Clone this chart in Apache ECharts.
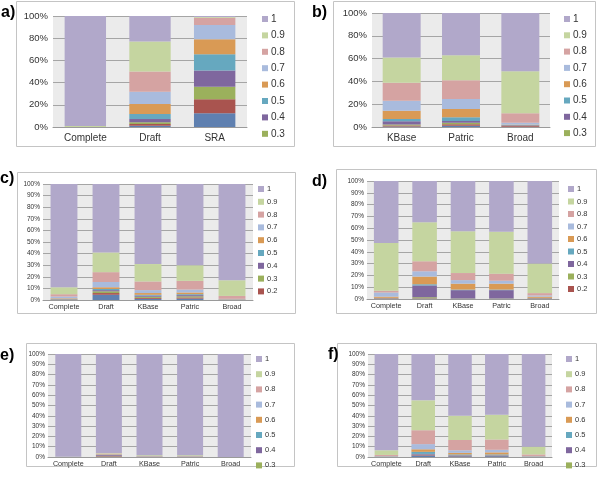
<!DOCTYPE html>
<html><head><meta charset="utf-8">
<script src="https://cdn.jsdelivr.net/npm/echarts@6/dist/echarts.min.js"></script>
<style>html,body{margin:0;padding:0;background:#fff}#c{width:600px;height:477px}</style>
</head><body><div id="c"></div>
<script>
// levels, bottom to top of each stack
const levels = ['0.1','0.2','0.3','0.4','0.5','0.6','0.7','0.8','0.9','1'];
const legendShort = ['1','0.9','0.8','0.7','0.6','0.5','0.4','0.3'];
const legendLong = ['1','0.9','0.8','0.7','0.6','0.5','0.4','0.3','0.2'];
const catsA = ['Complete','Draft','SRA'];
const catsB = ['KBase','Patric','Broad'];
const catsCF = ['Complete','Draft','KBase','Patric','Broad'];
const panelLabels = ['a)','b)','c)','d)','e)','f)'];

// percentages per category, ordered as levels (0.1 ... 1)
const aComplete = [0,0,0,0,0,0,0,0,1,99];
const aDraft    = [1.2,1.5,1.5,3.0,4.5,9.0,11.1,18.2,27,23];
const aSRA      = [12.3,12.7,11.3,14.7,14.5,13.5,13,6.5,0.5,1];

const bKBase  = [0.5,0.8,1.0,2.7,2.0,7.3,8.8,15.8,22,39.1];
const bPatric = [1.0,1.5,1.3,1.5,3.2,7.3,8.8,16.4,22,37];
const bBroad  = [0.3,0.5,0.5,0.5,0.2,0.3,1.5,8.2,37,51];

const cComplete = [0,0.3,0.2,0.2,0.3,0.5,1.5,2,6,89];
const cDraft    = [4.5,1.5,1.5,1,1,1.5,4.5,8.5,17,59];
const cKBase    = [1,0.8,1,1,0.7,1.5,2.5,7.5,15,69];
const cPatric   = [1.2,1,1,1,0.8,1.5,2.5,7.5,13.5,70];
const cBroad    = [0.1,0.1,0.1,0.1,0.1,0.2,0.3,2.5,13.5,83];

const dComplete = [0.2,0.3,0.2,0.2,0.1,1,3.5,1.5,40.5,52.5];
const dDraft    = [0.3,0.3,0.9,10,1,6.5,4.5,8.5,33,35];
const dKBase    = [0.2,0.1,0.2,7,0.5,5,3,6,35.5,42.5];
const dPatric   = [0.2,0.1,0.2,7,0.5,5,2.5,6,35.5,43];
const dBroad    = [0.2,0.3,0.2,0.2,0.1,1,1,2,25,70];

const eComplete = [0,0,0,0,0,0,0,0,0.3,99.7];
const eDraft    = [0.3,0.5,0.4,0.8,0.2,0.5,0.3,0.5,0.5,96];
const eKBase    = [0.1,0.1,0.1,0.1,0.1,0.1,0.1,0.3,0.8,98.2];
const ePatric   = [0.1,0.1,0.1,0.1,0.1,0.1,0.1,0.3,0.8,98.2];
const eBroad    = [0,0,0,0,0,0,0,0,0,100];

const fComplete = [0.1,0.1,0.1,0.1,0.1,0.2,0.3,1,4.5,93.5];
const fDraft    = [1.5,0.5,0.3,0.7,2,2.5,5,13.5,29,45];
const fKBase    = [0.7,0.3,0.3,0.5,0.7,1.5,2.5,10,23.5,60];
const fPatric   = [0.8,0.3,0.3,0.4,0.7,2,2.5,10,24,59];
const fBroad    = [0.1,0.1,0.1,0.1,0.1,0.2,0.3,1.5,7.5,90];

const colors = {
  '0.1':'#5f80b0','0.2':'#a9544f','0.3':'#9bb05c','0.4':'#7f679e','0.5':'#66a8bf',
  '0.6':'#d99a55','0.7':'#a9bbdd','0.8':'#d5a3a2','0.9':'#c5d5a0','1':'#b1a8ca'
};

const panels = [
  {cats:catsA, rows:[aComplete,aDraft,aSRA], legend:legendShort,
   grid:{left:53,top:16,width:194,height:111}, interval:20, big:true,
   leg:{left:262,top:14,itemGap:6.4}, box:[16.5,1.5,278,145], lab:[1,5]},
  {cats:catsB, rows:[bKBase,bPatric,bBroad], legend:legendShort,
   grid:{left:372,top:13,width:178,height:114}, interval:20, big:true,
   leg:{left:564,top:14,itemGap:6.3}, box:[333.5,1.5,262,145], lab:[312,5]},
  {cats:catsCF, rows:[cComplete,cDraft,cKBase,cPatric,cBroad], legend:legendLong,
   grid:{left:43,top:184,width:210,height:116}, interval:10, big:false,
   leg:{left:258,top:185,itemGap:4.8}, box:[17.5,172.5,278,141], lab:[0,171]},
  {cats:catsCF, rows:[dComplete,dDraft,dKBase,dPatric,dBroad], legend:legendLong,
   grid:{left:367,top:181,width:192,height:118}, interval:10, big:false,
   leg:{left:568,top:185,itemGap:4.5}, box:[336.5,169.5,260,144], lab:[312,174]},
  {cats:catsCF, rows:[eComplete,eDraft,eKBase,ePatric,eBroad], legend:legendShort,
   grid:{left:48,top:354,width:203,height:103}, interval:10, big:false,
   leg:{left:256,top:355,itemGap:7.2}, box:[26.5,343.5,268,123], lab:[0,348]},
  {cats:catsCF, rows:[fComplete,fDraft,fKBase,fPatric,fBroad], legend:legendShort,
   grid:{left:368,top:354,width:184,height:103}, interval:10, big:false,
   leg:{left:566,top:355,itemGap:7.2}, box:[337.5,343.5,259,123], lab:[328,347]}
];

const FONT = '"Liberation Sans", Arial, sans-serif';
const grids=[], xAxes=[], yAxes=[], series=[], legends=[], graphics=[];

panels.forEach((p,i)=>{
  graphics.push({type:'rect', z:-10, shape:{x:p.box[0],y:p.box[1],width:p.box[2],height:p.box[3]},
    style:{fill:'#fff',stroke:'#c4c4c4',lineWidth:1}});
  graphics.push({type:'text', left:p.lab[0], top:p.lab[1],
    style:{text:panelLabels[i], font:'bold 16px '+FONT, fill:'#000'}});
  grids.push(Object.assign({show:true, backgroundColor:'#ebebeb', borderWidth:0}, p.grid));
  const fsAxis = p.big ? 9.5 : 6.5;
  const fsCat = p.big ? 10 : 7.2;
  const fsLeg = p.big ? 10 : 7.5;
  xAxes.push({type:'category', gridIndex:i, data:p.cats,
    axisTick:{show:false}, axisLine:{lineStyle:{color:'#9a9a9a'}},
    axisLabel:{color:'#333', fontSize:fsCat, fontFamily:FONT, margin:p.big?6:4, interval:0}});
  yAxes.push({type:'value', gridIndex:i, min:0, max:100, interval:p.interval,
    axisLine:{show:false}, axisTick:{show:false},
    splitLine:{lineStyle:{color:'#a5a5a5',width:1}},
    axisLabel:{color:'#333', fontSize:fsAxis, fontFamily:FONT, margin:p.big?5:3, formatter:'{value}%'}});
  levels.forEach((lv,j)=>{
    series.push({type:'bar', name:lv, stack:'s'+i, xAxisIndex:i, yAxisIndex:i,
      barWidth:'64%', itemStyle:{color:colors[lv]}, emphasis:{disabled:true},
      data:p.rows.map(r=>r[j])});
  });
  legends.push({orient:'vertical', left:p.leg.left, top:p.leg.top, itemGap:p.leg.itemGap,
    padding:0, height:200,
    itemWidth:6, itemHeight:6, icon:'rect', data:p.legend, selectedMode:false,
    textStyle:{color:'#333', fontSize:fsLeg, fontFamily:FONT, padding:[0,0,0,-2]}});
});

const chart = echarts.init(document.getElementById('c'), null, {renderer:'canvas'});
chart.setOption({animation:false, color:levels.map(l=>colors[l]),
  graphic:graphics, grid:grids, xAxis:xAxes, yAxis:yAxes, legend:legends, series:series});
</script></body></html>
